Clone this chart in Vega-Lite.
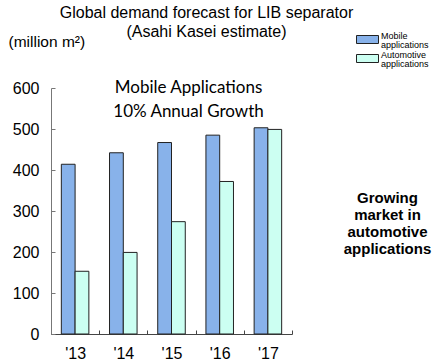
{
  "$schema": "https://vega.github.io/schema/vega-lite/v6.json",
  "width": 241,
  "height": 246,
  "autosize": {"type": "none"},
  "padding": {"left": 51, "top": 88, "right": 154, "bottom": 26},
  "background": "white",
  "title": {
    "text": ["Global demand forecast for LIB separator", "(Asahi Kasei estimate)"],
    "font": "Liberation Sans",
    "fontSize": 16,
    "fontWeight": "normal",
    "color": "black",
    "lineHeight": 19,
    "anchor": "middle",
    "frame": "group",
    "dx": 35,
    "offset": -9
  },
  "config": {"view": {"stroke": null}, "font": "Liberation Sans"},
  "layer": [
    {
      "data": {
        "values": [
          {"year": "'13", "series": "Mobile applications", "value": 414},
          {"year": "'13", "series": "Automotive applications", "value": 153},
          {"year": "'14", "series": "Mobile applications", "value": 442},
          {"year": "'14", "series": "Automotive applications", "value": 199},
          {"year": "'15", "series": "Mobile applications", "value": 467},
          {"year": "'15", "series": "Automotive applications", "value": 274},
          {"year": "'16", "series": "Mobile applications", "value": 485},
          {"year": "'16", "series": "Automotive applications", "value": 372},
          {"year": "'17", "series": "Mobile applications", "value": 503},
          {"year": "'17", "series": "Automotive applications", "value": 499}
        ]
      },
      "mark": {"type": "bar", "stroke": "#222", "strokeWidth": 1},
      "encoding": {
        "x": {
          "field": "year",
          "type": "nominal",
          "sort": ["'13", "'14", "'15", "'16", "'17"],
          "scale": {"paddingInner": 0, "paddingOuter": 0},
          "axis": {
            "title": null,
            "labelAngle": 0,
            "labelFontSize": 16,
            "labelColor": "black",
            "labelFont": "Liberation Sans",
            "labelPadding": 15,
            "tickBand": "extent",
            "tickSize": -4,
            "domainColor": "#444",
            "tickColor": "#444"
          }
        },
        "xOffset": {
          "field": "series",
          "sort": ["Mobile applications", "Automotive applications"],
          "scale": {"paddingInner": 0, "paddingOuter": 0.75}
        },
        "y": {
          "field": "value",
          "type": "quantitative",
          "scale": {"domain": [0, 600]},
          "axis": {
            "title": "(million m²)",
            "titleAngle": 0,
            "titleAlign": "left",
            "titleBaseline": "alphabetic",
            "titleX": -43,
            "titleY": -42,
            "titleFontSize": 15.5,
            "titleFontWeight": "normal",
            "titleColor": "black",
            "titleFont": "Liberation Sans",
            "values": [0, 100, 200, 300, 400, 500, 600],
            "grid": false,
            "labelFontSize": 16,
            "labelColor": "black",
            "labelFont": "Liberation Sans",
            "tickSize": -4,
            "labelPadding": 16,
            "domainColor": "#777",
            "tickColor": "#777"
          }
        },
        "color": {
          "field": "series",
          "type": "nominal",
          "sort": ["Mobile applications", "Automotive applications"],
          "scale": {
            "domain": ["Mobile applications", "Automotive applications"],
            "range": ["#88b2ea", "#ccfff2"]
          },
          "legend": {
            "title": null,
            "orient": "none",
            "legendX": 308,
            "legendY": -57,
            "symbolType": "M-1.375,-0.5H1.375V0.5H-1.375Z",
            "symbolSize": 256,
            "symbolStrokeColor": "#222",
            "symbolStrokeWidth": 1,
            "labelFontSize": 9,
            "labelFont": "Liberation Sans",
            "labelExpr": "split(datum.label, ' ')",
            "labelOffset": 5,
            "rowPadding": -1,
            "labelColor": "black",
            "labelBaseline": "middle",
            "encode": {
              "labels": {"update": {"lineHeight": {"value": 8.5}, "dy": {"value": -3.5}}}
            }
          }
        }
      }
    },
    {
      "data": {
        "values": [
          {"year": "'15", "value": 588, "label": "Mobile Applications"},
          {"year": "'15", "value": 529, "label": "10% Annual Growth"}
        ]
      },
      "mark": {"type": "text", "font": "Lato", "fontSize": 17, "baseline": "alphabetic", "dx": 17, "color": "black"},
      "encoding": {
        "x": {"field": "year", "type": "nominal", "sort": ["'13", "'14", "'15", "'16", "'17"], "axis": {"title": null}},
        "y": {
          "field": "value",
          "type": "quantitative",
          "axis": {
            "orient": "right",
            "labels": false,
            "ticks": false,
            "domain": false,
            "grid": false,
            "title": ["Growing", "market in", "automotive", "applications"],
            "titleAngle": 0,
            "titleX": 95,
            "titleY": 114,
            "titleAlign": "center",
            "titleBaseline": "alphabetic",
            "titleFontSize": 15,
            "titleFontWeight": "bold",
            "titleColor": "black",
            "titleFont": "Liberation Sans",
            "titleLineHeight": 17
          }
        },
        "text": {"field": "label"}
      }
    }
  ],
  "resolve": {"axis": {"y": "independent"}}
}
